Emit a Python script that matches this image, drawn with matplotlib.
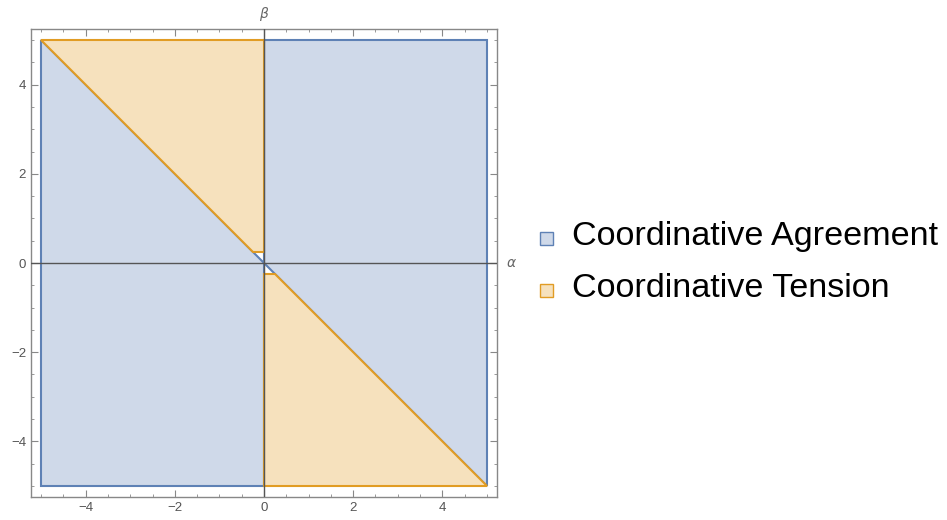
import matplotlib.pyplot as plt
from matplotlib.patches import Polygon, Rectangle
from matplotlib.ticker import MultipleLocator

plt.rcParams['font.family'] = ['Liberation Sans', 'DejaVu Sans']

# region corners in (alpha, beta)
agree_left = [(-5, 5), (-5, -5), (0, -5), (0, 0)]
agree_right = [(0, 0), (0, 5), (5, 5), (5, -5)]
tension_upper = [(-5, 5), (0, 5), (0, 0.25), (-0.25, 0.25)]
tension_lower = [(0.25, -0.25), (0, -0.25), (0, -5), (5, -5)]

labels = ['Coordinative Agreement', 'Coordinative Tension']
edge_colors = ['#5E81B5', '#E19C24']
fill_colors = ['#CFD9E9', '#F6E1BD']

W, H = 947, 520
fig = plt.figure(figsize=(W / 100, H / 100), dpi=100)
ax = fig.add_axes([31 / W, 23 / H, 466 / W, 468 / H])

for pts in (agree_left, agree_right):
    ax.add_patch(Polygon(pts, closed=True, facecolor=fill_colors[0],
                         edgecolor=edge_colors[0], lw=1.5, joinstyle='miter'))
for pts in (tension_upper, tension_lower):
    ax.add_patch(Polygon(pts, closed=True, facecolor=fill_colors[1],
                         edgecolor=edge_colors[1], lw=1.5, joinstyle='miter'))

ax.axhline(0, color='#555555', lw=1.0, zorder=3)
ax.axvline(0, color='#555555', lw=1.0, zorder=3)

ax.set_xlim(-5.225, 5.225)
ax.set_ylim(-5.25, 5.25)

ax.xaxis.set_major_locator(MultipleLocator(2))
ax.yaxis.set_major_locator(MultipleLocator(2))
ax.xaxis.set_minor_locator(MultipleLocator(0.5))
ax.yaxis.set_minor_locator(MultipleLocator(0.5))
ax.tick_params(which='both', direction='in', top=True, right=True,
               color='#888888', labelcolor='#555555', labelsize=9.5)
ax.tick_params(which='major', length=5, width=0.8)
ax.tick_params(which='minor', length=2.5, width=0.6)
for s in ax.spines.values():
    s.set_color('#888888')
    s.set_linewidth(1.0)

ax.text(0, 5.58, r'$\beta$', color='#666666', fontsize=10,
        ha='center', va='center', clip_on=False)
ax.text(5.55, 0, r'$\alpha$', color='#666666', fontsize=10,
        ha='center', va='center', clip_on=False)

# legend: small swatch sitting on the text baseline
baselines = [245, 297]
for i, lab in enumerate(labels):
    yb = baselines[i]
    fig.add_artist(Rectangle((540 / W, 1 - yb / H), 13 / W, 13 / H,
                             transform=fig.transFigure, facecolor=fill_colors[i],
                             edgecolor=edge_colors[i], lw=1.0))
    fig.text(572 / W, 1 - yb / H, lab, fontsize=24.6, color='black',
             ha='left', va='baseline')

fig.savefig('out.png', dpi=100)
